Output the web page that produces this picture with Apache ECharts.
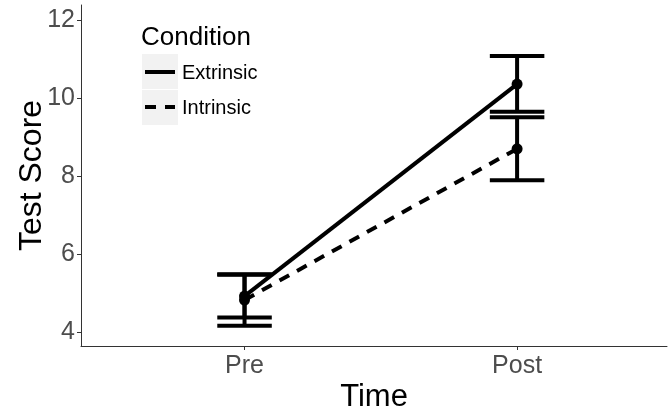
<!DOCTYPE html>
<html><head><meta charset="utf-8">
<script src="https://cdn.jsdelivr.net/npm/echarts@6/dist/echarts.min.js"></script>
<style>html,body{margin:0;padding:0;background:#fff}#c{width:672px;height:411px}</style>
</head><body><div id="c"></div>
<script>
const categories = ['Pre', 'Post'];
const conditions = ['Extrinsic', 'Intrinsic'];
const extrinsicMean = [4.93, 10.37];
const extrinsicLow = [4.38, 9.66];
const extrinsicHigh = [5.48, 11.09];
const intrinsicMean = [4.83, 8.71];
const intrinsicLow = [4.17, 7.90];
const intrinsicHigh = [5.49, 9.52];
const yTicks = [4, 6, 8, 10, 12];
const xPositions = [1, 2];

const FONT = 'Liberation Sans, Arial, sans-serif';
const chart = echarts.init(document.getElementById('c'), null, {renderer: 'canvas'});

function pts(mean) { return xPositions.map((x, i) => [x, mean[i]]); }
function errData(low, high) { return xPositions.map((x, i) => [x, low[i], high[i]]); }

function errRender(params, api) {
  const x = api.value(0), lo = api.value(1), hi = api.value(2);
  const pLo = api.coord([x, lo]), pHi = api.coord([x, hi]);
  const l = api.coord([x - 0.1, lo])[0], r = api.coord([x + 0.1, lo])[0];
  const style = {stroke: '#000', lineWidth: 4, fill: null};
  return {type: 'group', children: [
    {type: 'line', shape: {x1: pLo[0], y1: pLo[1], x2: pHi[0], y2: pHi[1]}, style: style},
    {type: 'line', shape: {x1: l, y1: pLo[1], x2: r, y2: pLo[1]}, style: style},
    {type: 'line', shape: {x1: l, y1: pHi[1], x2: r, y2: pHi[1]}, style: style}
  ]};
}

const option = {
  animation: false,
  backgroundColor: '#fff',
  grid: {left: 81, right: 5, top: 5, bottom: 65, containLabel: false, outerBoundsMode: 'none'},
  xAxis: {
    type: 'value', min: 0.4, max: 2.55,
    name: 'Time', nameLocation: 'middle', nameGap: 36, nameMoveOverlap: false,
    nameTextStyle: {fontFamily: FONT, fontSize: 31, color: '#000'},
    splitLine: {show: false},
    axisLine: {show: true, lineStyle: {color: '#333', width: 1}},
    axisTick: {show: true, length: 4, customValues: xPositions, lineStyle: {color: '#333'}},
    axisLabel: {customValues: xPositions, formatter: v => categories[Math.round(v) - 1] || '',
      fontFamily: FONT, fontSize: 25, color: '#4d4d4d', margin: 8}
  },
  yAxis: {
    type: 'value', min: 3.65, max: 12.4,
    name: 'Test Score', nameLocation: 'middle', nameGap: 33, nameRotate: 90, nameMoveOverlap: false,
    nameTextStyle: {fontFamily: FONT, fontSize: 32, color: '#000'},
    splitLine: {show: false},
    axisLine: {show: true, lineStyle: {color: '#333', width: 1}},
    axisTick: {show: true, length: 4, customValues: yTicks, lineStyle: {color: '#333'}},
    axisLabel: {customValues: yTicks, fontFamily: FONT, fontSize: 25, color: '#4d4d4d', margin: 6}
  },
  series: [
    {type: 'custom', name: conditions[0] + ' err', renderItem: errRender, data: errData(extrinsicLow, extrinsicHigh), z: 2},
    {type: 'custom', name: conditions[1] + ' err', renderItem: errRender, data: errData(intrinsicLow, intrinsicHigh), z: 2},
    {type: 'line', name: conditions[0], data: pts(extrinsicMean), symbol: 'circle', symbolSize: 11,
      itemStyle: {color: '#000'}, lineStyle: {color: '#000', width: 4, type: 'solid'}, z: 3},
    {type: 'line', name: conditions[1], data: pts(intrinsicMean), symbol: 'circle', symbolSize: 11,
      itemStyle: {color: '#000'}, lineStyle: {color: '#000', width: 4, type: [11, 9]}, z: 3}
  ],
  graphic: [
    {type: 'text', left: 141, top: 25, style: {text: 'Condition', fontFamily: FONT, fontSize: 26, fill: '#000'}},
    {type: 'rect', shape: {x: 142, y: 54, width: 36, height: 35}, style: {fill: '#f2f2f2'}},
    {type: 'rect', shape: {x: 142, y: 90, width: 36, height: 35}, style: {fill: '#f2f2f2'}},
    {type: 'line', shape: {x1: 145, y1: 72, x2: 175, y2: 72}, style: {stroke: '#000', lineWidth: 4}},
    {type: 'line', shape: {x1: 145, y1: 107, x2: 175, y2: 107}, style: {stroke: '#000', lineWidth: 4, lineDash: [11, 9]}},
    {type: 'text', left: 182, top: 63, style: {text: conditions[0], fontFamily: FONT, fontSize: 20, fill: '#000'}},
    {type: 'text', left: 182, top: 98, style: {text: conditions[1], fontFamily: FONT, fontSize: 20, fill: '#000'}}
  ]
};
chart.setOption(option);
</script>
</body></html>
